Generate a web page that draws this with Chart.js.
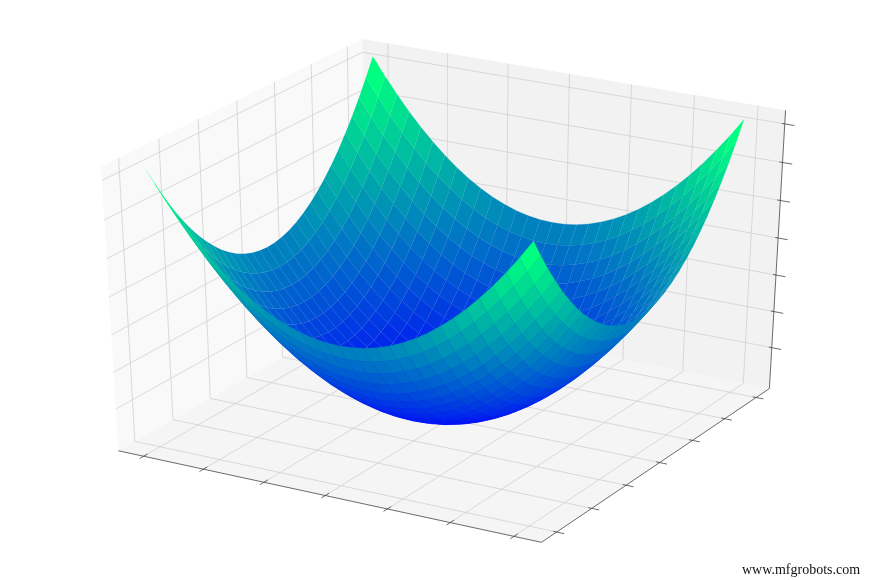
<!DOCTYPE html>
<html>
<head>
<meta charset="utf-8">
<title>Surface</title>
<script src="https://cdn.jsdelivr.net/npm/chart.js@4"></script>
<style>
  html, body { margin: 0; padding: 0; background: #fff; }
  #wrap { position: relative; width: 872px; height: 580px; overflow: hidden; }
  #surface { display: block; }
  #credit { position: absolute; left: 742px; top: 562px; font: 14px "Liberation Serif", serif; color: #111; white-space: nowrap; }
</style>
</head>
<body>
<div id="wrap">
  <canvas id="surface" width="872" height="580"></canvas>
  <div id="credit">www.mfgrobots.com</div>
</div>
<script>
// ── data ───────────────────────────────────────────────────────
const gridX = [-3, -2.8, -2.6, -2.4, -2.2, -2, -1.8, -1.6, -1.4, -1.2, -1, -0.8, -0.6, -0.4, -0.2, 0, 0.2, 0.4, 0.6, 0.8, 1, 1.2, 1.4, 1.6, 1.8, 2, 2.2, 2.4, 2.6, 2.8, 3];
const gridY = [-3, -2.8, -2.6, -2.4, -2.2, -2, -1.8, -1.6, -1.4, -1.2, -1, -0.8, -0.6, -0.4, -0.2, 0, 0.2, 0.4, 0.6, 0.8, 1, 1.2, 1.4, 1.6, 1.8, 2, 2.2, 2.4, 2.6, 2.8, 3];

const xTicks = [-3, -2, -1, 0, 1, 2, 3];
const yTicks = [-3, -2, -1, 0, 1, 2, 3];
const zTicks = [2.5, 5, 7.5, 10, 12.5, 15, 17.5];

const xLim = [-3.427, 3.427];
const yLim = [-3.427, 3.427];
const zLim = [-0.375, 18.375];

// surface heights, one row per gridY value
const surfaceZ = [
  [18, 16.84, 15.76, 14.76, 13.84, 13, 12.24, 11.56, 10.96, 10.44, 10, 9.64, 9.36, 9.16, 9.04, 9, 9.04, 9.16, 9.36, 9.64, 10, 10.44, 10.96, 11.56, 12.24, 13, 13.84, 14.76, 15.76, 16.84, 18],
  [16.84, 15.68, 14.6, 13.6, 12.68, 11.84, 11.08, 10.4, 9.8, 9.28, 8.84, 8.48, 8.2, 8, 7.88, 7.84, 7.88, 8, 8.2, 8.48, 8.84, 9.28, 9.8, 10.4, 11.08, 11.84, 12.68, 13.6, 14.6, 15.68, 16.84],
  [15.76, 14.6, 13.52, 12.52, 11.6, 10.76, 10, 9.32, 8.72, 8.2, 7.76, 7.4, 7.12, 6.92, 6.8, 6.76, 6.8, 6.92, 7.12, 7.4, 7.76, 8.2, 8.72, 9.32, 10, 10.76, 11.6, 12.52, 13.52, 14.6, 15.76],
  [14.76, 13.6, 12.52, 11.52, 10.6, 9.76, 9, 8.32, 7.72, 7.2, 6.76, 6.4, 6.12, 5.92, 5.8, 5.76, 5.8, 5.92, 6.12, 6.4, 6.76, 7.2, 7.72, 8.32, 9, 9.76, 10.6, 11.52, 12.52, 13.6, 14.76],
  [13.84, 12.68, 11.6, 10.6, 9.68, 8.84, 8.08, 7.4, 6.8, 6.28, 5.84, 5.48, 5.2, 5, 4.88, 4.84, 4.88, 5, 5.2, 5.48, 5.84, 6.28, 6.8, 7.4, 8.08, 8.84, 9.68, 10.6, 11.6, 12.68, 13.84],
  [13, 11.84, 10.76, 9.76, 8.84, 8, 7.24, 6.56, 5.96, 5.44, 5, 4.64, 4.36, 4.16, 4.04, 4, 4.04, 4.16, 4.36, 4.64, 5, 5.44, 5.96, 6.56, 7.24, 8, 8.84, 9.76, 10.76, 11.84, 13],
  [12.24, 11.08, 10, 9, 8.08, 7.24, 6.48, 5.8, 5.2, 4.68, 4.24, 3.88, 3.6, 3.4, 3.28, 3.24, 3.28, 3.4, 3.6, 3.88, 4.24, 4.68, 5.2, 5.8, 6.48, 7.24, 8.08, 9, 10, 11.08, 12.24],
  [11.56, 10.4, 9.32, 8.32, 7.4, 6.56, 5.8, 5.12, 4.52, 4, 3.56, 3.2, 2.92, 2.72, 2.6, 2.56, 2.6, 2.72, 2.92, 3.2, 3.56, 4, 4.52, 5.12, 5.8, 6.56, 7.4, 8.32, 9.32, 10.4, 11.56],
  [10.96, 9.8, 8.72, 7.72, 6.8, 5.96, 5.2, 4.52, 3.92, 3.4, 2.96, 2.6, 2.32, 2.12, 2, 1.96, 2, 2.12, 2.32, 2.6, 2.96, 3.4, 3.92, 4.52, 5.2, 5.96, 6.8, 7.72, 8.72, 9.8, 10.96],
  [10.44, 9.28, 8.2, 7.2, 6.28, 5.44, 4.68, 4, 3.4, 2.88, 2.44, 2.08, 1.8, 1.6, 1.48, 1.44, 1.48, 1.6, 1.8, 2.08, 2.44, 2.88, 3.4, 4, 4.68, 5.44, 6.28, 7.2, 8.2, 9.28, 10.44],
  [10, 8.84, 7.76, 6.76, 5.84, 5, 4.24, 3.56, 2.96, 2.44, 2, 1.64, 1.36, 1.16, 1.04, 1, 1.04, 1.16, 1.36, 1.64, 2, 2.44, 2.96, 3.56, 4.24, 5, 5.84, 6.76, 7.76, 8.84, 10],
  [9.64, 8.48, 7.4, 6.4, 5.48, 4.64, 3.88, 3.2, 2.6, 2.08, 1.64, 1.28, 1, 0.8, 0.68, 0.64, 0.68, 0.8, 1, 1.28, 1.64, 2.08, 2.6, 3.2, 3.88, 4.64, 5.48, 6.4, 7.4, 8.48, 9.64],
  [9.36, 8.2, 7.12, 6.12, 5.2, 4.36, 3.6, 2.92, 2.32, 1.8, 1.36, 1, 0.72, 0.52, 0.4, 0.36, 0.4, 0.52, 0.72, 1, 1.36, 1.8, 2.32, 2.92, 3.6, 4.36, 5.2, 6.12, 7.12, 8.2, 9.36],
  [9.16, 8, 6.92, 5.92, 5, 4.16, 3.4, 2.72, 2.12, 1.6, 1.16, 0.8, 0.52, 0.32, 0.2, 0.16, 0.2, 0.32, 0.52, 0.8, 1.16, 1.6, 2.12, 2.72, 3.4, 4.16, 5, 5.92, 6.92, 8, 9.16],
  [9.04, 7.88, 6.8, 5.8, 4.88, 4.04, 3.28, 2.6, 2, 1.48, 1.04, 0.68, 0.4, 0.2, 0.08, 0.04, 0.08, 0.2, 0.4, 0.68, 1.04, 1.48, 2, 2.6, 3.28, 4.04, 4.88, 5.8, 6.8, 7.88, 9.04],
  [9, 7.84, 6.76, 5.76, 4.84, 4, 3.24, 2.56, 1.96, 1.44, 1, 0.64, 0.36, 0.16, 0.04, 0, 0.04, 0.16, 0.36, 0.64, 1, 1.44, 1.96, 2.56, 3.24, 4, 4.84, 5.76, 6.76, 7.84, 9],
  [9.04, 7.88, 6.8, 5.8, 4.88, 4.04, 3.28, 2.6, 2, 1.48, 1.04, 0.68, 0.4, 0.2, 0.08, 0.04, 0.08, 0.2, 0.4, 0.68, 1.04, 1.48, 2, 2.6, 3.28, 4.04, 4.88, 5.8, 6.8, 7.88, 9.04],
  [9.16, 8, 6.92, 5.92, 5, 4.16, 3.4, 2.72, 2.12, 1.6, 1.16, 0.8, 0.52, 0.32, 0.2, 0.16, 0.2, 0.32, 0.52, 0.8, 1.16, 1.6, 2.12, 2.72, 3.4, 4.16, 5, 5.92, 6.92, 8, 9.16],
  [9.36, 8.2, 7.12, 6.12, 5.2, 4.36, 3.6, 2.92, 2.32, 1.8, 1.36, 1, 0.72, 0.52, 0.4, 0.36, 0.4, 0.52, 0.72, 1, 1.36, 1.8, 2.32, 2.92, 3.6, 4.36, 5.2, 6.12, 7.12, 8.2, 9.36],
  [9.64, 8.48, 7.4, 6.4, 5.48, 4.64, 3.88, 3.2, 2.6, 2.08, 1.64, 1.28, 1, 0.8, 0.68, 0.64, 0.68, 0.8, 1, 1.28, 1.64, 2.08, 2.6, 3.2, 3.88, 4.64, 5.48, 6.4, 7.4, 8.48, 9.64],
  [10, 8.84, 7.76, 6.76, 5.84, 5, 4.24, 3.56, 2.96, 2.44, 2, 1.64, 1.36, 1.16, 1.04, 1, 1.04, 1.16, 1.36, 1.64, 2, 2.44, 2.96, 3.56, 4.24, 5, 5.84, 6.76, 7.76, 8.84, 10],
  [10.44, 9.28, 8.2, 7.2, 6.28, 5.44, 4.68, 4, 3.4, 2.88, 2.44, 2.08, 1.8, 1.6, 1.48, 1.44, 1.48, 1.6, 1.8, 2.08, 2.44, 2.88, 3.4, 4, 4.68, 5.44, 6.28, 7.2, 8.2, 9.28, 10.44],
  [10.96, 9.8, 8.72, 7.72, 6.8, 5.96, 5.2, 4.52, 3.92, 3.4, 2.96, 2.6, 2.32, 2.12, 2, 1.96, 2, 2.12, 2.32, 2.6, 2.96, 3.4, 3.92, 4.52, 5.2, 5.96, 6.8, 7.72, 8.72, 9.8, 10.96],
  [11.56, 10.4, 9.32, 8.32, 7.4, 6.56, 5.8, 5.12, 4.52, 4, 3.56, 3.2, 2.92, 2.72, 2.6, 2.56, 2.6, 2.72, 2.92, 3.2, 3.56, 4, 4.52, 5.12, 5.8, 6.56, 7.4, 8.32, 9.32, 10.4, 11.56],
  [12.24, 11.08, 10, 9, 8.08, 7.24, 6.48, 5.8, 5.2, 4.68, 4.24, 3.88, 3.6, 3.4, 3.28, 3.24, 3.28, 3.4, 3.6, 3.88, 4.24, 4.68, 5.2, 5.8, 6.48, 7.24, 8.08, 9, 10, 11.08, 12.24],
  [13, 11.84, 10.76, 9.76, 8.84, 8, 7.24, 6.56, 5.96, 5.44, 5, 4.64, 4.36, 4.16, 4.04, 4, 4.04, 4.16, 4.36, 4.64, 5, 5.44, 5.96, 6.56, 7.24, 8, 8.84, 9.76, 10.76, 11.84, 13],
  [13.84, 12.68, 11.6, 10.6, 9.68, 8.84, 8.08, 7.4, 6.8, 6.28, 5.84, 5.48, 5.2, 5, 4.88, 4.84, 4.88, 5, 5.2, 5.48, 5.84, 6.28, 6.8, 7.4, 8.08, 8.84, 9.68, 10.6, 11.6, 12.68, 13.84],
  [14.76, 13.6, 12.52, 11.52, 10.6, 9.76, 9, 8.32, 7.72, 7.2, 6.76, 6.4, 6.12, 5.92, 5.8, 5.76, 5.8, 5.92, 6.12, 6.4, 6.76, 7.2, 7.72, 8.32, 9, 9.76, 10.6, 11.52, 12.52, 13.6, 14.76],
  [15.76, 14.6, 13.52, 12.52, 11.6, 10.76, 10, 9.32, 8.72, 8.2, 7.76, 7.4, 7.12, 6.92, 6.8, 6.76, 6.8, 6.92, 7.12, 7.4, 7.76, 8.2, 8.72, 9.32, 10, 10.76, 11.6, 12.52, 13.52, 14.6, 15.76],
  [16.84, 15.68, 14.6, 13.6, 12.68, 11.84, 11.08, 10.4, 9.8, 9.28, 8.84, 8.48, 8.2, 8, 7.88, 7.84, 7.88, 8, 8.2, 8.48, 8.84, 9.28, 9.8, 10.4, 11.08, 11.84, 12.68, 13.6, 14.6, 15.68, 16.84],
  [18, 16.84, 15.76, 14.76, 13.84, 13, 12.24, 11.56, 10.96, 10.44, 10, 9.64, 9.36, 9.16, 9.04, 9, 9.04, 9.16, 9.36, 9.64, 10, 10.44, 10.96, 11.56, 12.24, 13, 13.84, 14.76, 15.76, 16.84, 18],
];

// ── view: azim -60, elev 30, dist 10 on a unit box ─────────────
const VIEW_U = [0.866, 0.5, 0];
const VIEW_V = [-0.25, 0.433, 0.866];
const VIEW_N = [0.433, -0.75, 0.5];
const DIST = 10;

const dot = (a, b) => a[0] * b[0] + a[1] * b[1] + a[2] * b[2];

// p is in box coordinates, 0..1 on each axis
function project(p) {
    const q = [p[0] - 0.5, p[1] - 0.5, p[2] - 0.5];
    const d = DIST - dot(VIEW_N, q);
    return { x: dot(VIEW_U, q) / d, y: dot(VIEW_V, q) / d, depth: d };
}

const nx = v => (v - xLim[0]) / (xLim[1] - xLim[0]);
const ny = v => (v - yLim[0]) / (yLim[1] - yLim[0]);
const nz = v => (v - zLim[0]) / (zLim[1] - zLim[0]);

// ── layers, listed from back to front ──────────────────────────
const layers = [];

function shape(pts, color, edge = 0) {
    layers.push({ data: pts.map(project), showLine: true, fill: 'shape', backgroundColor: color, borderColor: color, borderWidth: edge, pointRadius: 0 });
}

function line(pts, color, width) {
    layers.push({ data: pts.map(project), showLine: true, fill: false, borderColor: color, borderWidth: width, pointRadius: 0 });
}

// panes
shape([[0, 0, 0], [0, 1, 0], [0, 1, 1], [0, 0, 1]], 'rgb(249,249,249)');
shape([[0, 1, 0], [1, 1, 0], [1, 1, 1], [0, 1, 1]], 'rgb(242,242,242)');
shape([[0, 0, 0], [1, 0, 0], [1, 1, 0], [0, 1, 0]], 'rgb(245,245,245)');

// grid lines
const GRID = 'rgb(208,208,208)';
xTicks.forEach(v => line([[nx(v), 0, 0], [nx(v), 1, 0], [nx(v), 1, 1]], GRID, 0.8));
yTicks.forEach(v => line([[1, ny(v), 0], [0, ny(v), 0], [0, ny(v), 1]], GRID, 0.8));
zTicks.forEach(v => line([[0, 0, nz(v)], [0, 1, nz(v)], [1, 1, nz(v)]], GRID, 0.8));

// axis lines and tick marks
const AXIS = 'rgb(70,70,70)';
line([[0, 0, 0], [1, 0, 0]], AXIS, 0.8);
line([[1, 0, 0], [1, 1, 0]], AXIS, 0.8);
line([[1, 1, 0], [1, 1, 1]], AXIS, 0.8);
xTicks.forEach(v => line([[nx(v), -0.015, 0], [nx(v), 0.015, 0]], AXIS, 0.8));
yTicks.forEach(v => line([[0.992, ny(v), 0], [1.017, ny(v), 0]], AXIS, 0.8));
zTicks.forEach(v => line([[0.993, 1, nz(v)], [1.022, 1, nz(v)]], AXIS, 0.8));

// surface cells, farthest first, coloured by mean height (winter map)
const cells = [];
for (let j = 0; j < gridY.length - 1; j++) {
    for (let i = 0; i < gridX.length - 1; i++) {
        const corners = [[i, j], [i + 1, j], [i + 1, j + 1], [i, j + 1]];
        const pts = corners.map(([a, b]) => [nx(gridX[a]), ny(gridY[b]), nz(surfaceZ[b][a])]);
        const mean = corners.reduce((s, [a, b]) => s + surfaceZ[b][a], 0) / 4;
        const depth = pts.reduce((s, p) => s + project(p).depth, 0) / 4;
        cells.push({ pts, mean, depth });
    }
}
const meanLow = Math.min(...cells.map(c => c.mean));
const meanHigh = Math.max(...cells.map(c => c.mean));
cells.sort((a, b) => b.depth - a.depth);
cells.forEach(c => {
    const t = (c.mean - meanLow) / (meanHigh - meanLow);
    // hairline edge in the cell colour softens the seams between cells
    shape(c.pts, `rgb(0,${Math.round(255 * t)},${Math.round(255 * (1 - t / 2))})`, 0.25);
});

// ── chart ──────────────────────────────────────────────────────
// Chart.js paints the last dataset first, so hand the layers over reversed
new Chart(document.getElementById('surface'), {
    type: 'scatter',
    data: { datasets: layers.reverse() },
    options: {
        responsive: false,
        animation: false,
        events: [],
        layout: { padding: 0 },
        plugins: { legend: { display: false }, tooltip: { enabled: false } },
        scales: {
            x: { type: 'linear', display: false, min: -0.09191, max: 0.08663 },
            y: { type: 'linear', display: false, min: -0.0918, max: 0.08693 },
        },
    },
});
</script>
</body>
</html>
